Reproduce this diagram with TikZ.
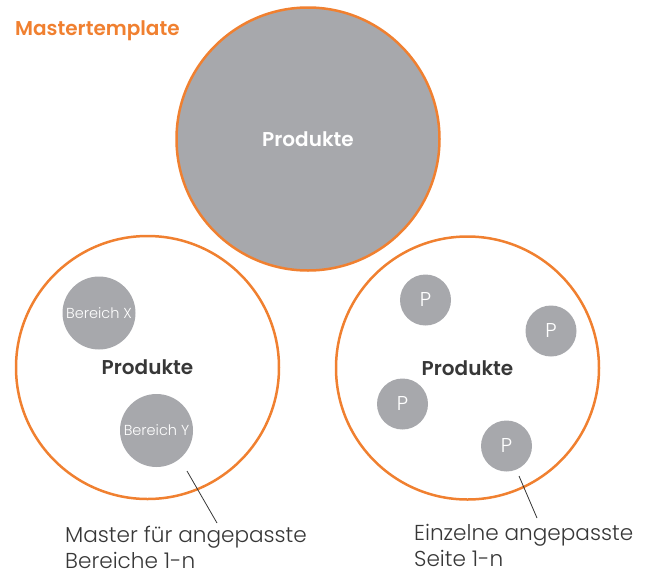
\documentclass[tikz,border=0pt]{standalone}
\usepackage{fontspec}
\setmainfont{Poppins}[BoldFont={Poppins SemiBold}]
\newfontfamily\lightfont{Poppins Light}
\usetikzlibrary{positioning}
\definecolor{mtorange}{RGB}{240,128,48}
\definecolor{mtgray}{RGB}{167,168,172}
\definecolor{mttext}{RGB}{55,55,55}
\tikzstyle{bigcircle} = [draw=mtorange, line width=2.5pt, circle, minimum size=263pt, inner sep=0pt, text=mttext, font=\bfseries\fontsize{20}{24}\selectfont]
\tikzstyle{bereich} = [fill=mtgray, circle, minimum size=73pt, inner sep=0pt, text=white, font=\lightfont\fontsize{14.5}{16}\selectfont]
\tikzstyle{pcircle} = [fill=mtgray, circle, minimum size=51pt, inner sep=0pt, text=white, font=\lightfont\fontsize{20}{22}\selectfont]
\tikzstyle{line} = [draw=mttext, line width=0.8pt]
\tikzstyle{caption} = [text=mttext, align=left, inner sep=0pt, font=\lightfont\fontsize{21.6}{26}\selectfont]

\begin{document}
\begin{tikzpicture}[x=1pt, y=-1pt]
        \useasboundingbox (0,0) rectangle (651,576);
        \node[anchor=base west, inner sep=0pt, text=mtorange, font=\bfseries\fontsize{20}{24}\selectfont] (mastertitle) at (15,35) {Mastertemplate};
        \node[bigcircle, fill=mtgray, text=white] (master) at (308,139) {Produkte};
        \node[bigcircle] (bereiche) at (147.5,367.5) {Produkte};
        \node[bigcircle] (seiten) at (467.5,368) {Produkte};
        \node[bereich] (bx) at (99,313) {Bereich X};
        \node[bereich] (by) at (156.5,430.5) {Bereich Y};
        \node[pcircle] (p1) at (425.5,300) {P};
        \node[pcircle] (p2) at (551,331) {P};
        \node[pcircle] (p3) at (402.5,404) {P};
        \node[pcircle] (p4) at (506.5,446) {P};
        \node[caption, anchor=north west] (masterlbl) at (65,526) {Master für angepasste\\Bereiche 1-n};
        \node[caption, anchor=north west] (seitelbl) at (414,524) {Einzelne angepasste\\Seite 1-n};
        \coordinate (bylink) at (187,471);
        \coordinate (masterlink) at (217,523);
        \coordinate (p4link) at (519,476);
        \coordinate (seitelink) at (537,518);
        \path[line] (bylink) -- (masterlink);
        \path[line] (p4link) -- (seitelink);
\end{tikzpicture}
\end{document}
